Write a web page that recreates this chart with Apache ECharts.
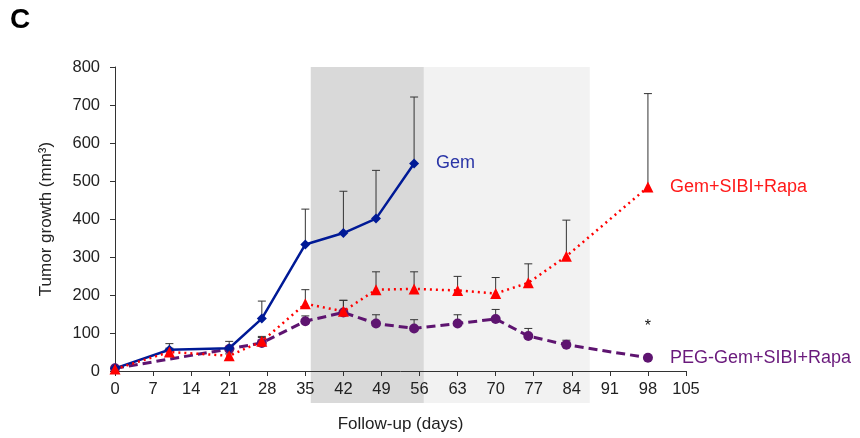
<!DOCTYPE html>
<html>
<head>
<meta charset="utf-8">
<script src="https://cdn.jsdelivr.net/npm/echarts@6/dist/echarts.min.js"></script>
<style>
html,body{margin:0;padding:0;background:#fff;}
#main{width:860px;height:438px;}
</style>
</head>
<body>
<div id="main"></div>
<script>
// ---- data ----
const xTicks = [0, 7, 14, 21, 28, 35, 42, 49, 56, 63, 70, 77, 84, 91, 98, 105];
const yTicks = [0, 100, 200, 300, 400, 500, 600, 700, 800];

const gemDays   = [0, 10, 21, 27, 35, 42, 48, 55];
const gemValues = [7, 56, 60, 138, 333, 363, 401, 546];
const gemErrTop = [9, 72, 78, 184, 426, 473, 528, 721];

const sibiDays   = [0, 10, 21, 27, 35, 42, 48, 55, 63, 70, 76, 83, 98];
const sibiValues = [5, 50, 40, 78, 177, 157, 214, 216, 212, 204, 232, 302, 484];
const sibiErrTop = [7, 60, 45, 91, 214, 186, 261, 261, 249, 246, 282, 397, 730];

const pegDays   = [0, 21, 27, 35, 42, 48, 55, 63, 70, 76, 83, 98];
const pegValues = [7, 58, 74, 131, 154, 125, 112, 125, 137, 92, 69, 35];
const pegErrTop = [9, 62, 88, 145, 186, 148, 135, 148, 162, 112, 81, 35];

const shadeStart = [36, 56.8];
const shadeEnd   = [56.8, 87.3];
const shadeColors = ['#d9d9d9', '#f2f2f2'];

const starDay = 98, starValue = 117;

// ---- build ----
const FONT = 'Liberation Sans, Arial, sans-serif';
function pairs(xs, ys){ return xs.map((x,i)=>[x, ys[i]]); }
function errData(xs, ys, tops){ return xs.map((x,i)=>[x, ys[i], tops[i]]); }

const errRender = function(params, api){
  const x = api.value(0), y = api.value(1), t = api.value(2);
  if (t - y < 1) return null;
  const p0 = api.coord([x, y]), p1 = api.coord([x, t]);
  const cap = 4;
  return {
    type: 'group',
    children: [
      {type:'line', shape:{x1:p0[0], y1:p0[1], x2:p1[0], y2:p1[1]}, style:{stroke:'#333', lineWidth:1}},
      {type:'line', shape:{x1:p1[0]-cap, y1:p1[1], x2:p1[0]+cap, y2:p1[1]}, style:{stroke:'#333', lineWidth:1}}
    ]
  };
};

const shadeData = shadeStart.map((s,i)=>[s, shadeEnd[i], i]);

const chart = echarts.init(document.getElementById('main'), null, {renderer:'canvas'});
chart.setOption({
  animation: false,
  backgroundColor: '#fff',
  textStyle: {fontFamily: FONT},
  grid: {left: 115, right: 174, top: 67, bottom: 67},
  graphic: [{
    type: 'text', left: 10, top: 6,
    style: {text: 'C', font: 'bold 28px ' + FONT, fill: '#000'}
  }],
  xAxis: {
    type: 'value', min: 0, max: 105, interval: 7,
    name: 'Follow-up (days)', nameLocation: 'middle', nameGap: 45,
    nameTextStyle: {fontSize: 17, color: '#222', fontFamily: FONT},
    axisLine: {lineStyle: {color: '#333', width: 1}},
    axisTick: {show: true, length: 5, lineStyle: {color: '#333'}},
    axisLabel: {fontSize: 16.5, color: '#222', margin: 10, fontFamily: FONT,
      formatter: v => xTicks.includes(v) ? String(v) : ''},
    splitLine: {show: false}
  },
  yAxis: {
    type: 'value', min: 0, max: 800, interval: 100,
    name: 'Tumor growth (mm³)', nameLocation: 'middle', nameGap: 60,
    nameTextStyle: {fontSize: 17, color: '#222', fontFamily: FONT},
    axisLine: {show: true, lineStyle: {color: '#333', width: 1}},
    axisTick: {show: true, length: 5, lineStyle: {color: '#333'}},
    axisLabel: {fontSize: 16.5, color: '#222', margin: 15, fontFamily: FONT,
      formatter: v => yTicks.includes(v) ? String(v) : ''},
    splitLine: {show: false}
  },
  series: [
    {
      type: 'custom', name: 'shade', z: 0, clip: false, silent: true,
      data: shadeData,
      encode: {x: [0, 1]},
      renderItem: function(params, api){
        const a = api.coord([api.value(0), 800]);
        const b = api.coord([api.value(1), 0]);
        return {type:'rect', shape:{x:a[0], y:a[1], width:b[0]-a[0], height:b[1]-a[1]+32},
          style:{fill: shadeColors[api.value(2)]}};
      }
    },
    {type:'custom', name:'errGem', z: 3, clip:false, data: errData(gemDays, gemValues, gemErrTop),
      encode:{x:0, y:[1,2]}, renderItem: errRender},
    {type:'custom', name:'errSibi', z: 3, clip:false, data: errData(sibiDays, sibiValues, sibiErrTop),
      encode:{x:0, y:[1,2]}, renderItem: errRender},
    {type:'custom', name:'errPeg', z: 3, clip:false, data: errData(pegDays, pegValues, pegErrTop),
      encode:{x:0, y:[1,2]}, renderItem: errRender},
    {
      type: 'line', name: 'Gem', z: 5,
      data: pairs(gemDays, gemValues),
      symbol: 'diamond', symbolSize: 10, showAllSymbol: true,
      lineStyle: {color: '#001a96', width: 2.5},
      itemStyle: {color: '#001a96'},
      endLabel: {show: true, formatter: 'Gem', color: '#2a35a6', fontSize: 18, distance: 22, fontFamily: FONT}
    },
    {
      type: 'line', name: 'Gem+SIBI+Rapa', z: 6,
      data: pairs(sibiDays, sibiValues),
      symbol: 'triangle', symbolSize: 11, showAllSymbol: true,
      lineStyle: {color: '#ff0000', width: 2.5, type: [2, 4]},
      itemStyle: {color: '#ff0000'},
      endLabel: {show: true, formatter: 'Gem+SIBI+Rapa', color: '#ff1a1a', fontSize: 18, distance: 22, fontFamily: FONT}
    },
    {
      type: 'line', name: 'PEG-Gem+SIBI+Rapa', z: 4,
      data: pairs(pegDays, pegValues),
      symbol: 'circle', symbolSize: 10, showAllSymbol: true,
      lineStyle: {color: '#5e1470', width: 3, type: [9, 5]},
      itemStyle: {color: '#5e1470'},
      endLabel: {show: true, formatter: 'PEG-Gem+SIBI+Rapa', color: '#6a1a7c', fontSize: 18, distance: 22, fontFamily: FONT},
      markPoint: {
        symbol: 'circle', symbolSize: 1, itemStyle: {color: 'rgba(0,0,0,0)'},
        data: [{coord: [starDay, starValue]}],
        label: {show: true, formatter: '*', color: '#111', fontSize: 16, position: 'inside', fontFamily: FONT}
      }
    }
  ]
});
</script>
</body>
</html>
